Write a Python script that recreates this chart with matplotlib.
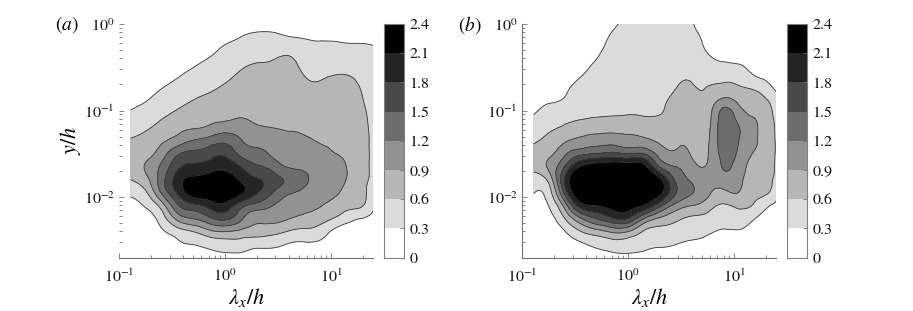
import numpy as np
import matplotlib
matplotlib.use("Agg")
import matplotlib.pyplot as plt
import matplotlib.tri as mtri
from matplotlib.colors import ListedColormap, BoundaryNorm
from matplotlib.ticker import LogLocator, NullFormatter, FixedLocator, FixedFormatter, NullLocator

plt.rcParams['font.family'] = ['STIXGeneral', 'DejaVu Serif']
plt.rcParams['mathtext.fontset'] = 'stix'

# ---------------- data ----------------
# grid positions: log10(lambda_x/h) columns and log10(y/h) rows (top -> bottom)
log_lambda = [-0.89, -0.75, -0.6, -0.45, -0.3, -0.15, 0.0, 0.15, 0.3,
              0.45, 0.6, 0.75, 0.9, 1.05, 1.2, 1.3, 1.4]
log_y = [0.0, -0.15, -0.3, -0.45, -0.6, -0.75, -0.9, -1.05, -1.2, -1.35,
         -1.5, -1.65, -1.8, -1.95, -2.1, -2.25, -2.4, -2.55, -2.7]

levels = [0.0, 0.3, 0.6, 0.9, 1.2, 1.5, 1.8, 2.1, 2.4]
level_labels = ['0', '0.3', '0.6', '0.9', '1.2', '1.5', '1.8', '2.1', '2.4']
gray_fills = ['#ffffff', '#dbdbdb', '#b6b6b6', '#929292',
              '#6d6d6d', '#494949', '#242424', '#000000']

# panel (a): one list per lambda_x column, values from y/h = 1 downward
spectrum_a = [
    [0.02, 0.03, 0.05, 0.08, 0.11, 0.16, 0.24, 0.34, 0.48, 0.63, 0.75, 0.76, 0.60, 0.37, 0.20, 0.13, 0.09, 0.06, 0.04],
    [0.02, 0.04, 0.06, 0.10, 0.15, 0.21, 0.30, 0.43, 0.56, 0.70, 0.80, 0.92, 0.80, 0.55, 0.32, 0.20, 0.13, 0.08, 0.05],
    [0.03, 0.05, 0.08, 0.13, 0.20, 0.30, 0.42, 0.55, 0.69, 0.85, 1.05, 1.26, 1.35, 1.22, 0.73, 0.43, 0.25, 0.14, 0.08],
    [0.04, 0.07, 0.12, 0.19, 0.28, 0.40, 0.52, 0.66, 0.81, 1.03, 1.45, 1.72, 1.94, 1.83, 1.44, 0.98, 0.45, 0.26, 0.13],
    [0.06, 0.10, 0.17, 0.26, 0.38, 0.50, 0.62, 0.75, 0.88, 1.22, 1.58, 1.88, 2.20, 2.26, 1.71, 1.20, 0.60, 0.30, 0.15],
    [0.08, 0.14, 0.23, 0.35, 0.46, 0.57, 0.68, 0.80, 0.95, 1.33, 1.67, 1.95, 2.25, 2.30, 1.90, 1.42, 0.82, 0.38, 0.20],
    [0.12, 0.22, 0.35, 0.44, 0.54, 0.64, 0.73, 0.82, 1.05, 1.43, 1.74, 2.01, 2.30, 2.35, 2.00, 1.56, 0.90, 0.45, 0.22],
    [0.17, 0.30, 0.42, 0.54, 0.64, 0.72, 0.80, 0.88, 1.02, 1.22, 1.42, 1.79, 2.05, 2.16, 1.62, 1.26, 0.82, 0.45, 0.22],
    [0.19, 0.36, 0.49, 0.60, 0.68, 0.75, 0.81, 0.86, 0.93, 1.10, 1.29, 1.55, 1.83, 1.82, 1.38, 0.98, 0.75, 0.38, 0.20],
    [0.19, 0.36, 0.50, 0.62, 0.70, 0.76, 0.81, 0.85, 0.90, 1.02, 1.15, 1.38, 1.63, 1.50, 1.20, 0.98, 0.70, 0.36, 0.20],
    [0.16, 0.31, 0.52, 0.66, 0.73, 0.78, 0.82, 0.86, 0.89, 0.97, 1.08, 1.18, 1.45, 1.25, 1.06, 0.91, 0.58, 0.28, 0.15],
    [0.15, 0.28, 0.42, 0.52, 0.60, 0.68, 0.74, 0.80, 0.86, 0.94, 1.03, 1.14, 1.25, 1.12, 0.98, 0.82, 0.52, 0.26, 0.15],
    [0.15, 0.26, 0.38, 0.47, 0.57, 0.64, 0.70, 0.76, 0.82, 0.88, 0.97, 1.04, 1.06, 1.00, 0.91, 0.72, 0.45, 0.24, 0.13],
    [0.15, 0.26, 0.37, 0.48, 0.61, 0.68, 0.73, 0.77, 0.81, 0.86, 0.90, 0.95, 0.96, 0.92, 0.80, 0.55, 0.22, 0.15, 0.10],
    [0.14, 0.24, 0.36, 0.47, 0.59, 0.66, 0.70, 0.73, 0.76, 0.79, 0.82, 0.84, 0.83, 0.78, 0.68, 0.35, 0.20, 0.12, 0.08],
    [0.14, 0.24, 0.36, 0.46, 0.53, 0.58, 0.61, 0.64, 0.66, 0.67, 0.68, 0.68, 0.67, 0.65, 0.61, 0.29, 0.18, 0.11, 0.07],
    [0.13, 0.22, 0.34, 0.42, 0.47, 0.50, 0.52, 0.54, 0.55, 0.56, 0.56, 0.56, 0.55, 0.50, 0.36, 0.22, 0.16, 0.10, 0.06],
]

# panel (b)
spectrum_b = [
    [0.05, 0.07, 0.09, 0.12, 0.15, 0.19, 0.24, 0.30, 0.42, 0.56, 0.72, 0.66, 0.48, 0.31, 0.20, 0.13, 0.09, 0.06, 0.04],
    [0.06, 0.08, 0.11, 0.14, 0.18, 0.23, 0.29, 0.40, 0.54, 0.68, 0.82, 0.94, 0.68, 0.45, 0.30, 0.18, 0.12, 0.08, 0.05],
    [0.07, 0.10, 0.13, 0.17, 0.22, 0.26, 0.34, 0.50, 0.64, 0.86, 1.14, 1.50, 1.78, 1.55, 1.00, 0.58, 0.28, 0.16, 0.10],
    [0.10, 0.14, 0.18, 0.23, 0.29, 0.40, 0.50, 0.56, 0.72, 0.98, 1.42, 2.12, 2.50, 2.45, 1.92, 1.15, 0.58, 0.25, 0.12],
    [0.14, 0.19, 0.25, 0.32, 0.40, 0.46, 0.52, 0.58, 0.76, 1.06, 1.52, 2.30, 2.60, 2.60, 2.10, 1.50, 0.78, 0.36, 0.15],
    [0.25, 0.33, 0.38, 0.43, 0.48, 0.52, 0.55, 0.59, 0.78, 1.09, 1.58, 2.35, 2.65, 2.65, 2.25, 1.75, 0.95, 0.45, 0.20],
    [0.36, 0.40, 0.44, 0.48, 0.52, 0.55, 0.57, 0.60, 0.78, 1.02, 1.50, 2.35, 2.65, 2.65, 2.28, 1.77, 0.90, 0.45, 0.22],
    [0.42, 0.45, 0.48, 0.51, 0.54, 0.56, 0.58, 0.59, 0.75, 0.98, 1.50, 2.22, 2.50, 2.45, 2.08, 1.20, 0.57, 0.36, 0.20],
    [0.45, 0.47, 0.50, 0.52, 0.54, 0.56, 0.58, 0.60, 0.70, 0.85, 1.08, 1.50, 2.17, 2.20, 1.58, 0.85, 0.50, 0.33, 0.19],
    [0.42, 0.45, 0.48, 0.52, 0.56, 0.60, 0.66, 0.72, 0.78, 0.85, 0.95, 1.20, 1.45, 1.52, 1.10, 0.67, 0.45, 0.30, 0.18],
    [0.32, 0.38, 0.45, 0.51, 0.57, 0.62, 0.68, 0.73, 0.78, 0.83, 0.88, 1.00, 1.16, 1.22, 0.90, 0.55, 0.38, 0.26, 0.16],
    [0.20, 0.24, 0.28, 0.38, 0.50, 0.61, 0.70, 0.76, 0.81, 0.85, 0.88, 0.93, 0.98, 0.96, 0.74, 0.50, 0.33, 0.24, 0.15],
    [0.18, 0.21, 0.25, 0.31, 0.50, 0.70, 1.02, 1.32, 1.38, 1.36, 1.30, 1.22, 1.06, 0.84, 0.56, 0.40, 0.28, 0.20, 0.13],
    [0.15, 0.19, 0.24, 0.29, 0.45, 0.65, 0.84, 1.04, 1.21, 1.19, 1.12, 1.04, 0.97, 0.89, 0.66, 0.45, 0.28, 0.19, 0.12],
    [0.13, 0.16, 0.20, 0.25, 0.30, 0.57, 0.75, 0.88, 0.93, 0.92, 0.88, 0.82, 0.75, 0.67, 0.55, 0.30, 0.22, 0.16, 0.10],
    [0.12, 0.14, 0.17, 0.21, 0.26, 0.42, 0.66, 0.75, 0.79, 0.80, 0.78, 0.75, 0.70, 0.64, 0.36, 0.22, 0.19, 0.14, 0.09],
    [0.10, 0.12, 0.15, 0.18, 0.22, 0.27, 0.42, 0.52, 0.56, 0.57, 0.57, 0.56, 0.53, 0.40, 0.25, 0.20, 0.15, 0.11, 0.08],
]

x_limits = (0.1, 8 * np.pi)
y_limits = (2e-3, 1.0)

# ---------------- figure ----------------
W, H = 913, 311
fig = plt.figure(figsize=(W / 100, H / 100), dpi=100)


def px_axes(x0, y0, x1, y1):
    return fig.add_axes([x0 / W, 1 - y1 / H, (x1 - x0) / W, (y1 - y0) / H])


fill_cmap = ListedColormap(gray_fills)
fill_cmap.set_under('white')
fill_cmap.set_over('black')
fill_norm = BoundaryNorm(levels, len(gray_fills))

tick_gray = '#707070'


def draw_colorbar(cax):
    band_values = np.array([(levels[i] + levels[i + 1]) / 2 for i in range(len(levels) - 1)]).reshape(-1, 1)
    cax.pcolormesh([0, 1], levels, band_values, cmap=fill_cmap, norm=fill_norm, shading='flat')
    cax.set_xlim(0, 1)
    cax.set_ylim(levels[0], levels[-1])
    cax.xaxis.set_major_locator(NullLocator())
    cax.yaxis.tick_right()
    cax.yaxis.set_major_locator(FixedLocator(levels))
    cax.yaxis.set_major_formatter(FixedFormatter(level_labels))
    cax.yaxis.set_minor_locator(NullLocator())
    for s in cax.spines.values():
        s.set_edgecolor('#808080')
        s.set_linewidth(0.8)
    cax.tick_params(axis='y', direction='in', length=3, width=0.6, color=tick_gray,
                    labelsize=11.5, pad=4, labelcolor='#111111')


def draw_panel(ax, cax, spectrum, left_spine):
    LX, LY = np.meshgrid(log_lambda, log_y)
    Z = np.array(spectrum, dtype=float).T
    tri = mtri.Triangulation(LX.ravel(), LY.ravel())
    fine_tri, fine_z = mtri.UniformTriRefiner(tri).refine_field(Z.ravel(), subdiv=4)
    plot_tri = mtri.Triangulation(10.0 ** fine_tri.x, 10.0 ** fine_tri.y, fine_tri.triangles)
    ax.tricontourf(plot_tri, fine_z, levels=levels, cmap=fill_cmap, norm=fill_norm, extend='both')
    ax.tricontour(plot_tri, fine_z, levels=levels[1:-1], colors='#3a3a3a', linewidths=0.6)

    ax.set_xscale('log')
    ax.set_yscale('log')
    ax.set_xlim(*x_limits)
    ax.set_ylim(*y_limits)

    ax.xaxis.set_major_locator(FixedLocator([0.1, 1, 10]))
    ax.xaxis.set_major_formatter(FixedFormatter([r'$10^{-1}$', r'$10^{0}$', r'$10^{1}$']))
    ax.xaxis.set_minor_locator(LogLocator(base=10, subs=np.arange(2, 10)))
    ax.xaxis.set_minor_formatter(NullFormatter())
    ax.yaxis.set_major_locator(FixedLocator([1e-2, 1e-1, 1]))
    ax.yaxis.set_major_formatter(FixedFormatter([r'$10^{-2}$', r'$10^{-1}$', r'$10^{0}$']))
    ax.yaxis.set_minor_locator(LogLocator(base=10, subs=np.arange(2, 10)))
    ax.yaxis.set_minor_formatter(NullFormatter())

    for s in ('top', 'right'):
        ax.spines[s].set_visible(False)
    ax.spines['left'].set_visible(left_spine)
    for s in ('bottom', 'left'):
        ax.spines[s].set_color(tick_gray)
        ax.spines[s].set_linewidth(0.8)
    ax.tick_params(which='both', direction='in', color=tick_gray, width=0.6,
                   labelsize=11.5, labelcolor='#111111')
    ax.tick_params(which='major', length=3.5)
    ax.tick_params(which='minor', length=2)
    ax.tick_params(axis='x', which='major', pad=7)
    ax.tick_params(axis='y', which='major', pad=3)

    ax.set_xlabel(r'$\lambda_x/h$', fontsize=16)
    ax.xaxis.set_label_coords(0.5, -0.12)
    draw_colorbar(cax)


ax_a = px_axes(119, 24, 373.3, 257.5)
cax_a = px_axes(384, 24, 404, 257.5)
ax_b = px_axes(522, 24, 776.3, 257.5)
cax_b = px_axes(787, 24, 807, 257.5)

draw_panel(ax_a, cax_a, spectrum_a, left_spine=False)
draw_panel(ax_b, cax_b, spectrum_b, left_spine=True)

ax_a.set_ylabel(r'$y/h$', fontsize=16)
ax_a.yaxis.set_label_coords(-0.14, 0.5)

fig.text(55 / W, 1 - 25 / H, r'$(a)$', fontsize=14, ha='left', va='center')
fig.text(458 / W, 1 - 25 / H, r'$(b)$', fontsize=14, ha='left', va='center')

fig.savefig('out.png', dpi=100)
